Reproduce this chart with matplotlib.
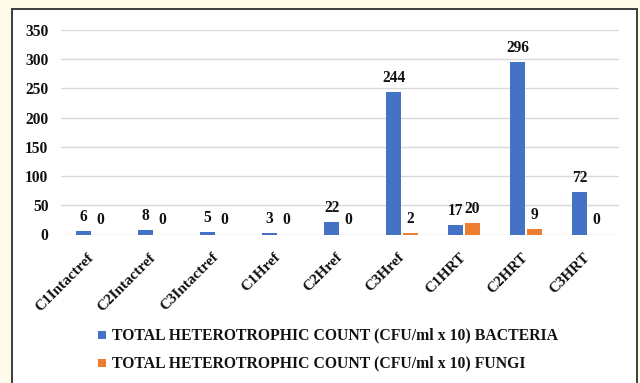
import matplotlib
matplotlib.use("Agg")
import matplotlib.pyplot as plt
from matplotlib.patches import Rectangle
import numpy as np

# Data
categories = ["C1Intactref", "C2Intactref", "C3Intactref", "C1Href", "C2Href",
              "C3Href", "C1HRT", "C2HRT", "C3HRT"]
bacteria = [6, 8, 5, 3, 22, 244, 17, 296, 72]
fungi = [0, 0, 0, 0, 0, 2, 20, 9, 0]
series_labels = ["TOTAL HETEROTROPHIC COUNT (CFU/ml x 10) BACTERIA",
                 "TOTAL HETEROTROPHIC COUNT (CFU/ml x 10) FUNGI"]
yticks = [0, 50, 100, 150, 200, 250, 300, 350]

BLUE = "#4472C4"
ORANGE = "#ED7D31"
FONT = "Liberation Serif"

W, H = 640, 383
fig = plt.figure(figsize=(W / 100, H / 100), dpi=100)
fig.patch.set_facecolor("#FFFBEA")

# White chart frame
frame = Rectangle((12 / W, -0.02), (637 - 12) / W, 1.02 - 9 / H,
                  transform=fig.transFigure, facecolor="white",
                  edgecolor="#3c3c3c", linewidth=1.4, zorder=-5)
fig.patches.append(frame)

ax = fig.add_axes([61 / W, 1 - 234.5 / H, (619 - 61) / W, (234.5 - 30) / H])
ax.set_facecolor("none")
ax.set_zorder(2)

x = np.arange(len(categories))
bw = 0.235
off = 0.137
b1 = ax.bar(x - off, bacteria, bw, color=BLUE, zorder=3)
b2 = ax.bar(x + off, fungi, bw, color=ORANGE, zorder=3)

for bars, vals in ((b1, bacteria), (b2, fungi)):
    for rect, v in zip(bars, vals):
        ax.annotate(f"{v}", (rect.get_x() + rect.get_width() / 2, v),
                    xytext=(0, 7.2), textcoords="offset points",
                    ha="center", va="baseline", fontsize=11.2,
                    fontweight="bold", family=FONT, color="#111111")

ax.set_xlim(-0.5, len(categories) - 0.5)
ax.set_ylim(0, 350)
ax.set_yticks(yticks)
ax.set_yticklabels([str(t) for t in yticks], fontsize=11.2, fontweight="bold",
                   family=FONT, color="#111111")
ax.set_xticks(x)
ax.set_xticklabels(categories, rotation=45, ha="right", va="center",
                   rotation_mode="anchor", fontsize=11, fontweight="bold",
                   family=FONT, color="#111111")
ax.tick_params(axis="both", length=0)
ax.tick_params(axis="y", pad=9)
ax.tick_params(axis="x", pad=15)
ax.yaxis.grid(True, color="#D9D9D9", linewidth=1.0, zorder=0)
ax.set_axisbelow(True)
for s in ax.spines.values():
    s.set_visible(False)

# Legend
for i, (lab, col) in enumerate(zip(series_labels, [BLUE, ORANGE])):
    yc = 335 + 28 * i
    fig.patches.append(Rectangle(((102 - 4) / W, 1 - (yc + 4) / H), 8 / W, 8 / H,
                                 transform=fig.transFigure, facecolor=col,
                                 edgecolor="none", zorder=2))
    fig.text(112 / W, 1 - yc / H, lab, ha="left", va="center", fontsize=11.35,
             fontweight="bold", family=FONT, color="#111111")

fig.savefig("out.png", dpi=100, facecolor=fig.get_facecolor())
